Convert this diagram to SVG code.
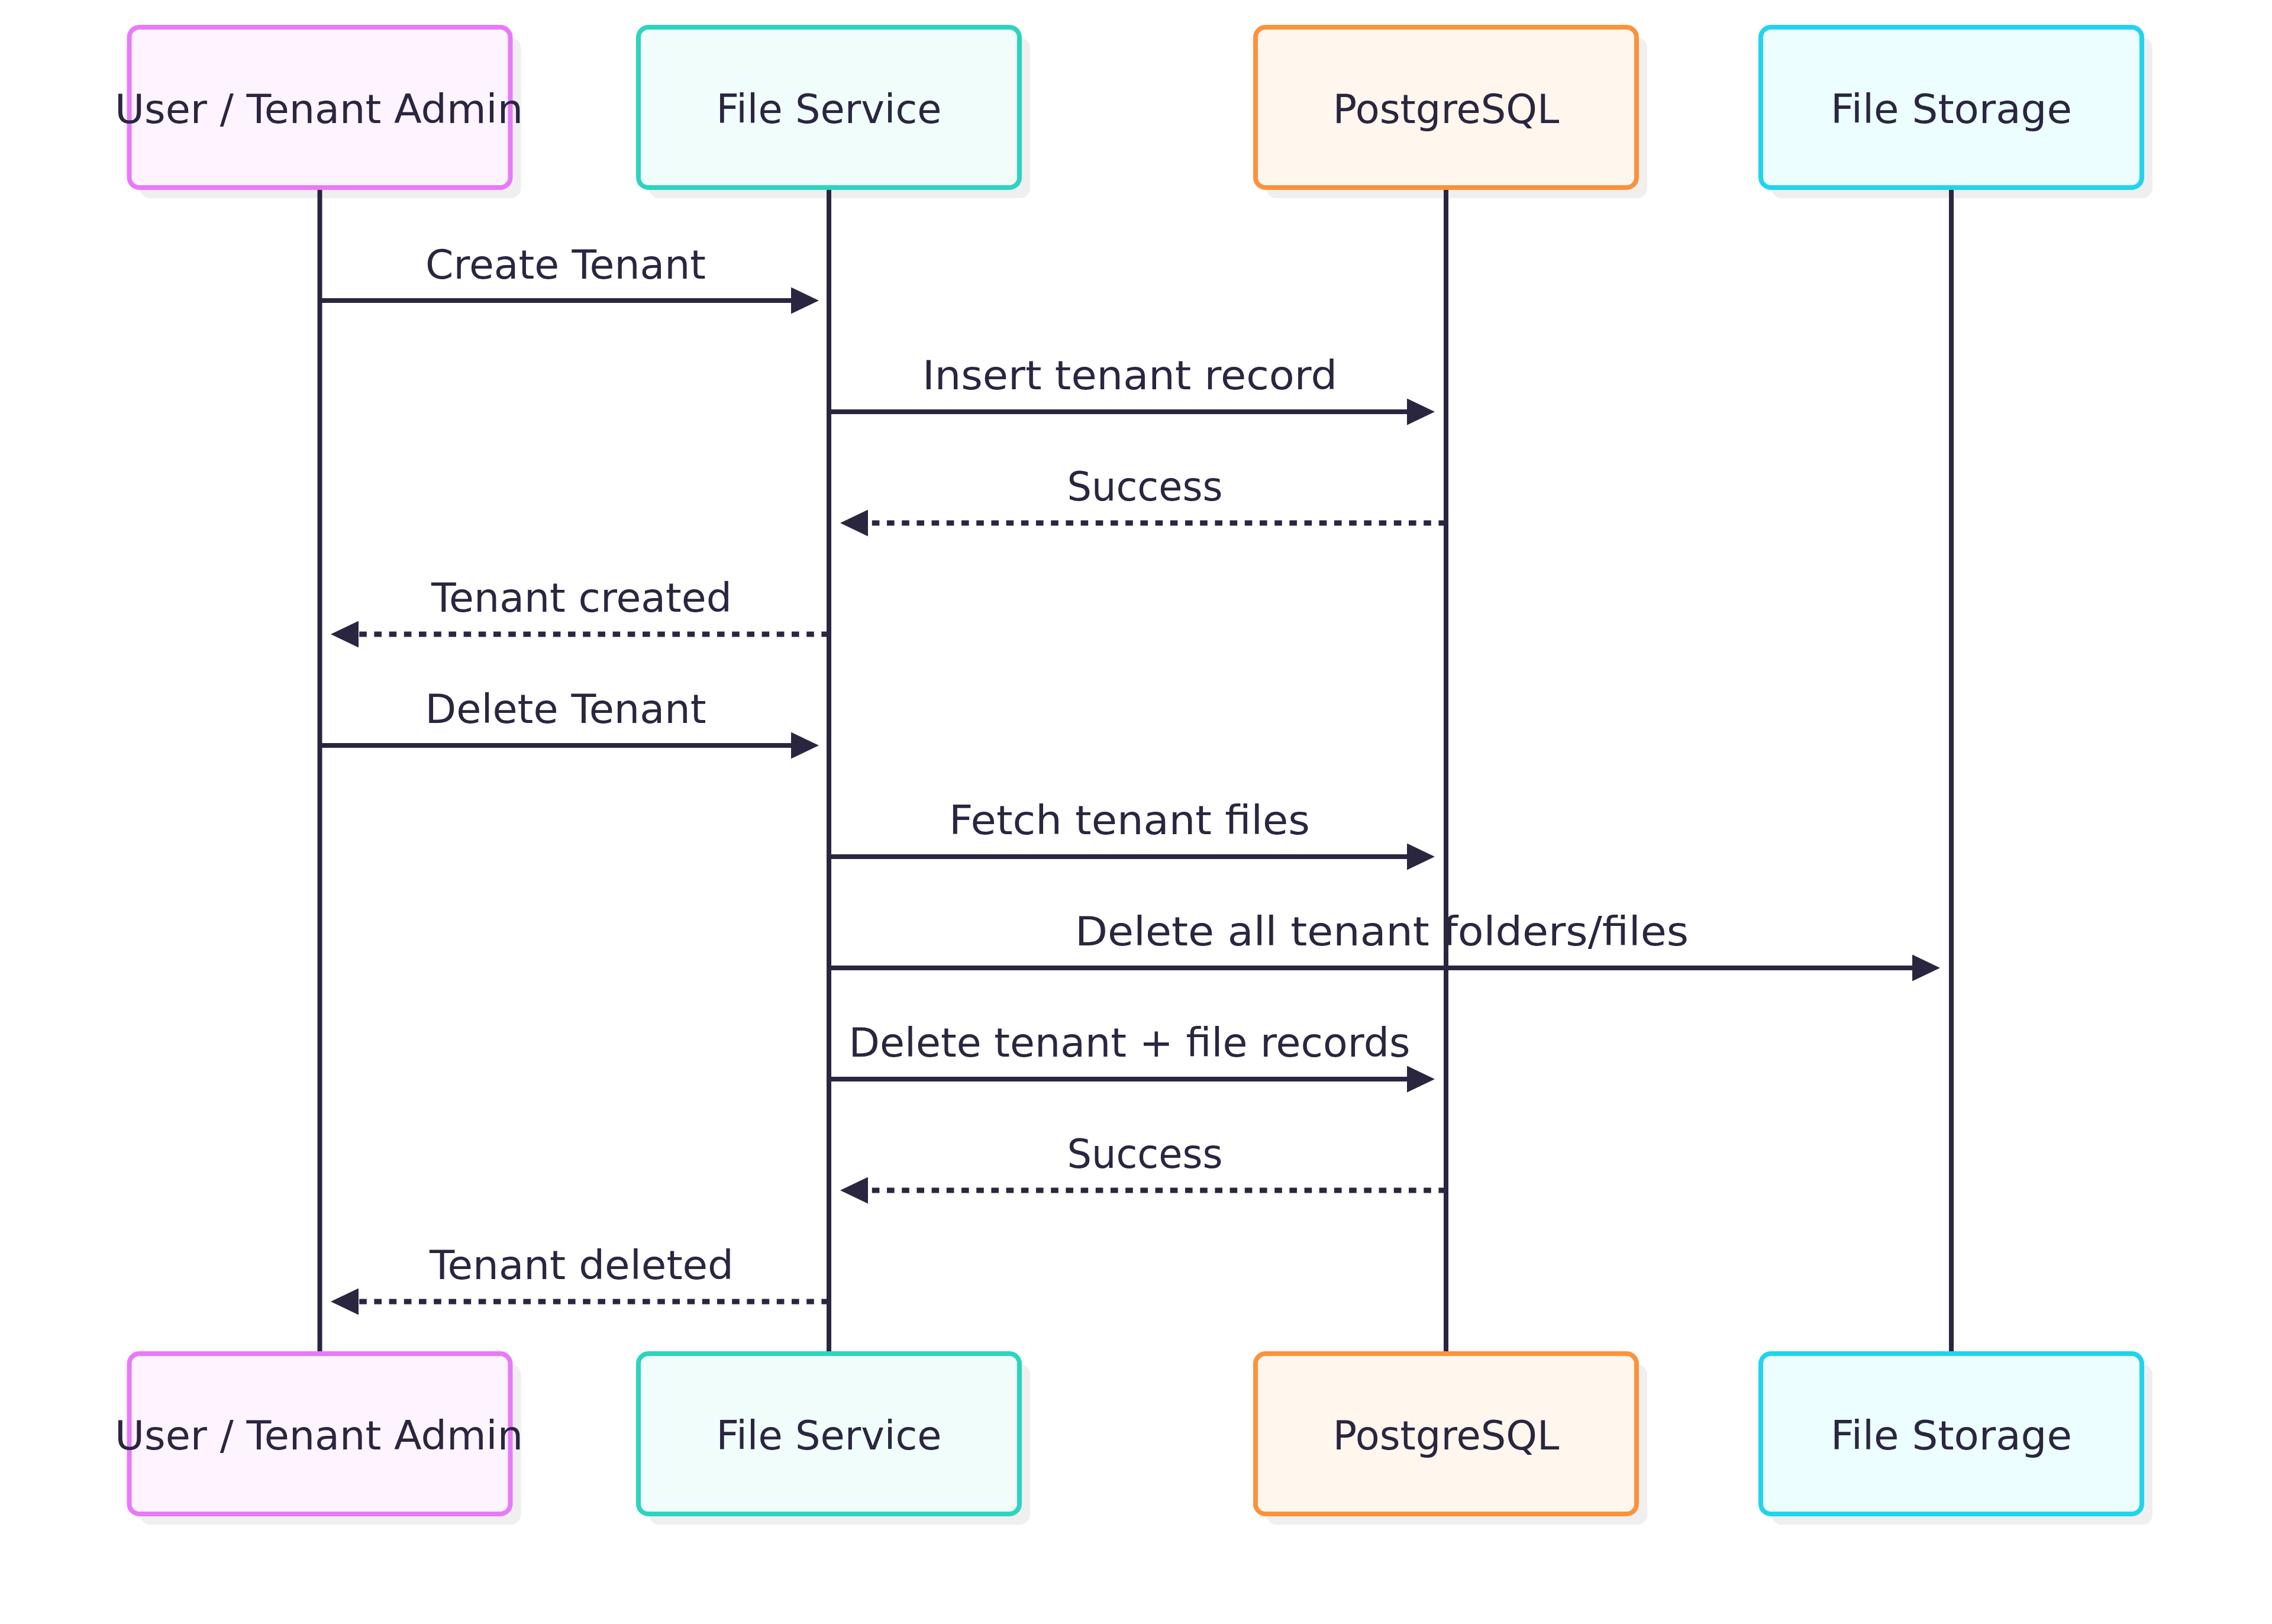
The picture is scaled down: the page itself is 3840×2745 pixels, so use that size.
<svg xmlns="http://www.w3.org/2000/svg" width="3840" height="2745" viewBox="0 0 3840 2745">
  <style>
    .shadow { fill: #efefef; stroke: none; }
    .box { stroke-width: 8; }
    .user { fill: #FDF4FF; stroke: #E879F9; }
    .svc { fill: #F0FDFA; stroke: #2DD4BF; }
    .pg { fill: #FFF7ED; stroke: #FB923C; }
    .stor { fill: #ECFEFF; stroke: #22D3EE; }
    .atext { font-family: "DejaVu Sans", "Liberation Sans", sans-serif; font-size: 67px; fill: #2A2640; text-anchor: middle; }
    .mtext { font-family: "DejaVu Sans", "Liberation Sans", sans-serif; font-size: 67px; fill: #2A2640; text-anchor: middle; }
    .life { stroke: #2A2640; stroke-width: 8; fill: none; }
    .msg { stroke: #2A2640; stroke-width: 8; fill: none; marker-end: url(#arrow); }
    .dash { stroke-dasharray: 12.6 12.6; stroke-width: 9; }
  </style>
  <defs>
    <marker id="arrow" viewBox="0 0 47 45" refX="2" refY="22.5" markerWidth="47" markerHeight="45" markerUnits="userSpaceOnUse" orient="auto">
      <path d="M0,0 L47,22.5 L0,45 Z" fill="#2A2640"/>
    </marker>
  </defs>
  <rect x="0" y="0" width="3840" height="2745" fill="#ffffff"/>

  <g id="actor-user-top">
    <rect class="shadow" x="236.5" y="64" width="644" height="271" rx="17"/>
    <rect class="box user" x="218.5" y="46" width="644" height="271" rx="17"/>
    <text class="atext" x="539" y="208" textLength="690" lengthAdjust="spacingAndGlyphs">User / Tenant Admin</text>
  </g>
  <g id="actor-fileservice-top">
    <rect class="shadow" x="1097" y="64" width="644" height="271" rx="17"/>
    <rect class="box svc" x="1079" y="46" width="644" height="271" rx="17"/>
    <text class="atext" x="1401" y="208">File Service</text>
  </g>
  <g id="actor-postgres-top">
    <rect class="shadow" x="2140" y="64" width="644" height="271" rx="17"/>
    <rect class="box pg" x="2122" y="46" width="644" height="271" rx="17"/>
    <text class="atext" x="2444" y="208">PostgreSQL</text>
  </g>
  <g id="actor-storage-top">
    <rect class="shadow" x="2994" y="64" width="644" height="271" rx="17"/>
    <rect class="box stor" x="2976" y="46" width="644" height="271" rx="17"/>
    <text class="atext" x="3298" y="208" textLength="408" lengthAdjust="spacingAndGlyphs">File Storage</text>
  </g>

  <g id="actor-user-bottom">
    <rect class="shadow" x="236.5" y="2306" width="644" height="271" rx="17"/>
    <rect class="box user" x="218.5" y="2288" width="644" height="271" rx="17"/>
    <text class="atext" x="539" y="2450" textLength="690" lengthAdjust="spacingAndGlyphs">User / Tenant Admin</text>
  </g>
  <g id="actor-fileservice-bottom">
    <rect class="shadow" x="1097" y="2306" width="644" height="271" rx="17"/>
    <rect class="box svc" x="1079" y="2288" width="644" height="271" rx="17"/>
    <text class="atext" x="1401" y="2450">File Service</text>
  </g>
  <g id="actor-postgres-bottom">
    <rect class="shadow" x="2140" y="2306" width="644" height="271" rx="17"/>
    <rect class="box pg" x="2122" y="2288" width="644" height="271" rx="17"/>
    <text class="atext" x="2444" y="2450">PostgreSQL</text>
  </g>
  <g id="actor-storage-bottom">
    <rect class="shadow" x="2994" y="2306" width="644" height="271" rx="17"/>
    <rect class="box stor" x="2976" y="2288" width="644" height="271" rx="17"/>
    <text class="atext" x="3298" y="2450" textLength="408" lengthAdjust="spacingAndGlyphs">File Storage</text>
  </g>

  <g id="connectors">
    <line class="life" x1="540.5" y1="321" x2="540.5" y2="2284"/>
    <line class="life" x1="1401" y1="321" x2="1401" y2="2284"/>
    <line class="life" x1="2444" y1="321" x2="2444" y2="2284"/>
    <line class="life" x1="3298" y1="321" x2="3298" y2="2284"/>

    <line class="msg" x1="540.5" y1="508" x2="1339" y2="508"/>
    <text class="mtext" x="956" y="470.5" textLength="474" lengthAdjust="spacingAndGlyphs">Create Tenant</text>

    <line class="msg" x1="1401" y1="696" x2="2380" y2="696"/>
    <text class="mtext" x="1909.5" y="658" textLength="701" lengthAdjust="spacingAndGlyphs">Insert tenant record</text>

    <line class="msg dash" x1="2444" y1="884" x2="1465" y2="884"/>
    <text class="mtext" x="1935" y="846" textLength="263" lengthAdjust="spacingAndGlyphs">Success</text>

    <line class="msg dash" x1="1401" y1="1072" x2="604" y2="1072"/>
    <text class="mtext" x="983" y="1034" textLength="508" lengthAdjust="spacingAndGlyphs">Tenant created</text>

    <line class="msg" x1="540.5" y1="1260" x2="1339" y2="1260"/>
    <text class="mtext" x="956" y="1222" textLength="475" lengthAdjust="spacingAndGlyphs">Delete Tenant</text>

    <line class="msg" x1="1401" y1="1448" x2="2380" y2="1448"/>
    <text class="mtext" x="1909" y="1410" textLength="610" lengthAdjust="spacingAndGlyphs">Fetch tenant files</text>

    <line class="msg" x1="1401" y1="1636" x2="3234" y2="1636"/>
    <text class="mtext" x="2335.5" y="1598" textLength="1037" lengthAdjust="spacingAndGlyphs">Delete all tenant folders/files</text>

    <line class="msg" x1="1401" y1="1824" x2="2380" y2="1824"/>
    <text class="mtext" x="1909" y="1786" textLength="949" lengthAdjust="spacingAndGlyphs">Delete tenant + file records</text>

    <line class="msg dash" x1="2444" y1="2012" x2="1465" y2="2012"/>
    <text class="mtext" x="1935" y="1974" textLength="263" lengthAdjust="spacingAndGlyphs">Success</text>

    <line class="msg dash" x1="1401" y1="2200" x2="604" y2="2200"/>
    <text class="mtext" x="983" y="2162" textLength="514" lengthAdjust="spacingAndGlyphs">Tenant deleted</text>
  </g>
</svg>
